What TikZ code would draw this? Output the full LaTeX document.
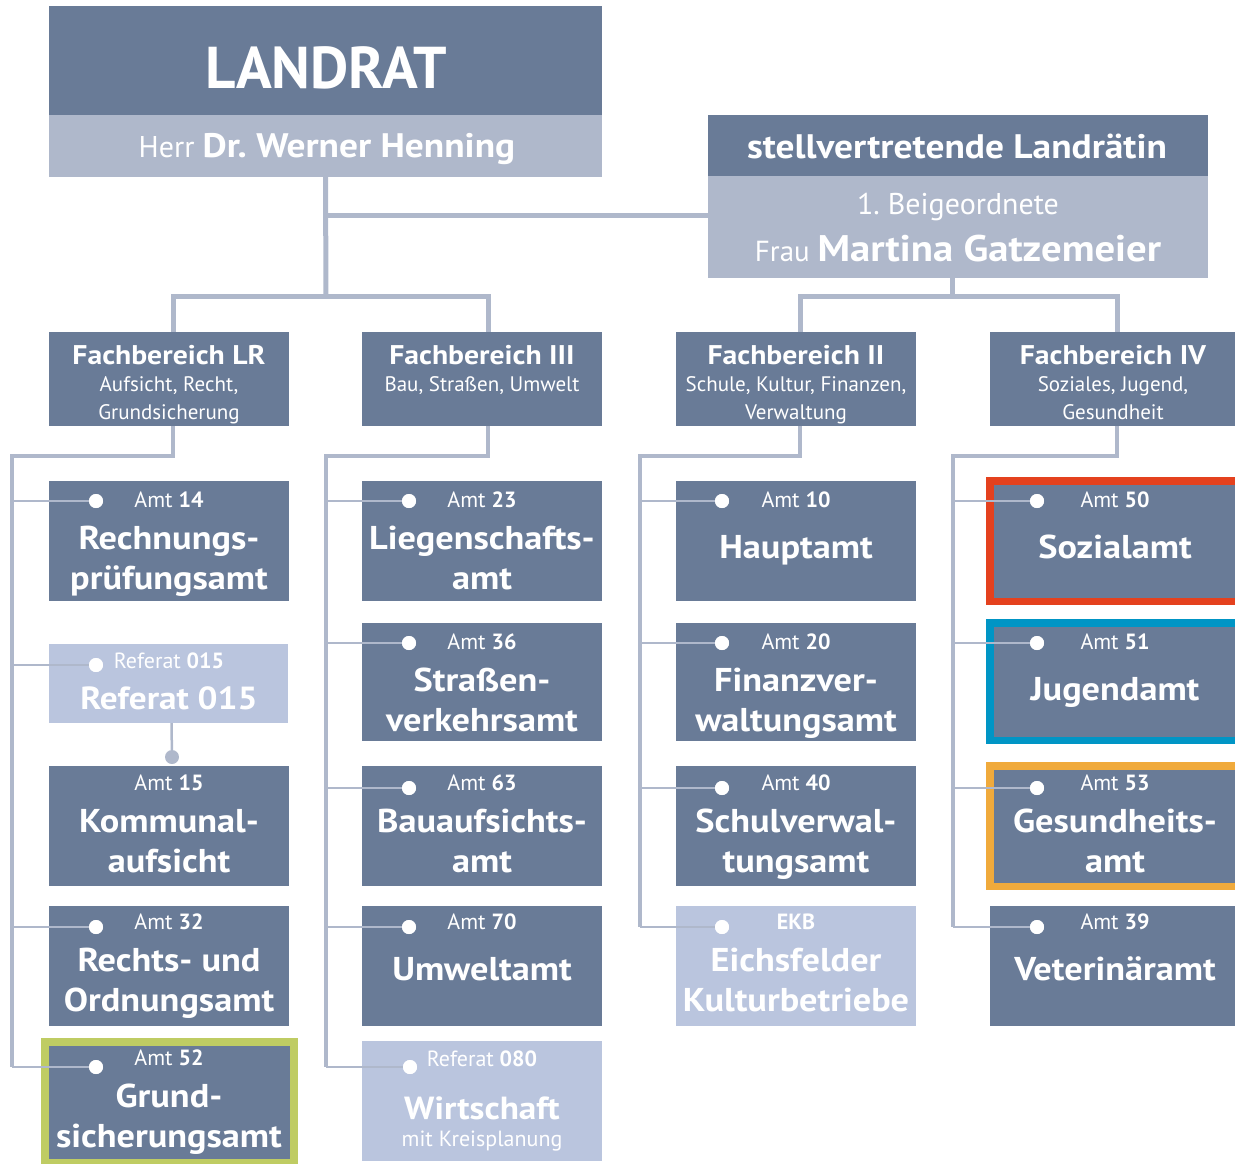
\documentclass[tikz,border=0pt]{standalone}
\usepackage{fontspec}
\setmainfont{PT Sans}
\newfontfamily\sbf{PT Sans}[FakeStretch=1.1]
\usetikzlibrary{fit,calc}
\frenchspacing
\definecolor{dk}{HTML}{697B97}
\definecolor{lt}{HTML}{AFB8CB}
\definecolor{rf}{HTML}{BAC5DE}
\definecolor{ln}{HTML}{AFB8CB}
\definecolor{cred}{HTML}{E4411E}
\definecolor{cblue}{HTML}{0095C5}
\definecolor{corange}{HTML}{F0AA3C}
\definecolor{cgreen}{HTML}{BFCC63}
\newcommand\fs[1]{\fontsize{#1}{#1}\selectfont}
% box: name, x1, y1, x2, y2, style
\newcommand\obox[6]{\node[#6, fit={(#2,#3) (#4,#5)}] (#1) {};}
% two-line office: name, x, label baseline, label, line1, line2
\newcommand\twoline[6]{%
  \node[amtl] (#1a) at (#2,#3) {#4};
  \node[big] (#1b) at (#2,#3+42) {#5};
  \node[big] (#1c) at (#2,#3+82) {#6};}
\newcommand\oneline[5]{%
  \node[amtl] (#1a) at (#2,#3) {#4};
  \node[big] (#1b) at (#2,#3+51) {#5};}
\begin{document}
\begin{tikzpicture}[x=1pt,y=-1pt,
  box/.style={inner sep=0pt, fill=dk, draw=none},
  lbox/.style={inner sep=0pt, fill=lt, draw=none},
  rbox/.style={inner sep=0pt, fill=rf, draw=none},
  txt/.style={text=white, inner sep=0pt, anchor=base},
  amtl/.style={txt, font=\fs{22}},
  big/.style={txt, font=\sbf\fs{33}\bfseries},
  fbt/.style={txt, font=\sbf\fs{27}\bfseries},
  fbs/.style={txt, font=\fs{21}},
  bul/.style={circle, fill=white, minimum size=14pt, inner sep=0pt},
  lmain/.style={draw=ln, line width=5pt},
  lcol/.style={draw=ln, line width=4pt},
  lthin/.style={draw=ln, line width=2pt},
]
\useasboundingbox (0,0) rectangle (1235,1163);
\clip (0,0) rectangle (1235,1163);

% ---------- top boxes ----------
\obox{lrt}{49}{6}{602}{115}{box}
\obox{lrb}{49}{115}{602}{177}{lbox}
\node[txt, font=\fs{59}\bfseries] (lrtx) at (326,88) {LANDRAT};
\node[txt] (lrbx) at (327,157) {\fs{30}Herr \sbf\fs{34}\bfseries Dr. Werner Henning};

\obox{svt}{708}{115}{1208}{176}{box}
\obox{svb}{708}{176}{1208}{278}{lbox}
\node[txt, font=\sbf\fs{34}\bfseries] (svtx) at (957,158) {stellvertretende Landrätin};
\node[txt, font=\fs{30}] (svbx1) at (958,214) {1. Beigeordnete};
\node[txt] (svbx2) at (958,261) {\fs{29}Frau \sbf\fs{37}\bfseries Martina Gatzemeier};

% ---------- Fachbereiche ----------
\obox{fbLR}{49}{332}{289}{426}{box}
\obox{fbIII}{362}{332}{602}{426}{box}
\obox{fbII}{676}{332}{916}{426}{box}
\obox{fbIV}{990}{332}{1240}{426}{box}
\node[fbt] (fbLRa) at (169,364) {Fachbereich LR};
\node[fbs] (fbLRb) at (169,391) {Aufsicht, Recht,};
\node[fbs] (fbLRc) at (169,419) {Grundsicherung};
\node[fbt] (fbIIIa) at (482,364) {Fachbereich III};
\node[fbs] (fbIIIb) at (482,391) {Bau, Straßen, Umwelt};
\node[fbt] (fbIIa) at (796,364) {Fachbereich II};
\node[fbs] (fbIIb) at (796,391) {Schule, Kultur, Finanzen,};
\node[fbs] (fbIIc) at (796,419) {Verwaltung};
\node[fbt] (fbIVa) at (1113,364) {Fachbereich IV};
\node[fbs] (fbIVb) at (1113,391) {Soziales, Jugend,};
\node[fbs] (fbIVc) at (1113,419) {Gesundheit};

% ---------- top connectors ----------
\coordinate (j0) at (326,215);
\coordinate (j1) at (326,296);
\coordinate (j2) at (952,296);
\draw[lmain] (lrb.south) -- (j1);
\draw[lmain] (j0) -- (svb.west |- j0);
\draw[lmain] ([xshift=4pt]fbLR.north) |- (j1) -| ([xshift=6pt]fbIII.north);
\draw[lmain] (svb.south -| j2) -- (j2);
\draw[lmain] ([xshift=4pt]fbII.north) |- (j2) -| ([xshift=2pt]fbIV.north);

% ---------- column LR ----------
\obox{a14}{49}{481}{289}{601}{box}
\obox{r015}{49}{644}{288}{723}{rbox}
\obox{a15}{49}{766}{289}{886}{box}
\obox{a32}{49}{906}{289}{1026}{box}
\node[inner sep=0pt, fill=dk, draw=cgreen, line width=8pt, fit={(45,1042) (293.5,1163)}] (a52) {};
\twoline{t14}{169}{507}{Amt \textbf{14}}{Rechnungs-}{prüfungsamt}
\node[amtl] (t015a) at (169,668) {Referat \textbf{015}};
\node[big, font=\sbf\fs{32}\bfseries] (t015b) at (169,709) {Referat 015};
\twoline{t15}{169}{790}{Amt \textbf{15}}{Kommunal-}{aufsicht}
\twoline{t32}{169}{929}{Amt \textbf{32}}{Rechts- und}{Ordnungsamt}
\twoline{t52}{169}{1065}{Amt \textbf{52}}{Grund-}{sicherungsamt}

% ---------- column III ----------
\obox{a23}{362}{481}{602}{601}{box}
\obox{a36}{362}{623}{602}{741}{box}
\obox{a63}{362}{766}{602}{886}{box}
\obox{a70}{362}{906}{602}{1026}{box}
\obox{r080}{362}{1041}{602}{1161}{rbox}
\twoline{t23}{482}{507}{Amt \textbf{23}}{Liegenschafts-}{amt}
\twoline{t36}{482}{649}{Amt \textbf{36}}{Straßen-}{verkehrsamt}
\twoline{t63}{482}{790}{Amt \textbf{63}}{Bauaufsichts-}{amt}
\oneline{t70}{482}{929}{Amt \textbf{70}}{Umweltamt}
\node[amtl] (t080a) at (482,1066) {Referat \textbf{080}};
\node[txt, font=\sbf\fs{32}\bfseries] (t080b) at (482,1119) {Wirtschaft};
\node[amtl] (t080c) at (482,1146) {mit Kreisplanung};

% ---------- column II ----------
\obox{a10}{676}{481}{916}{601}{box}
\obox{a20}{676}{623}{916}{741}{box}
\obox{a40}{676}{766}{916}{886}{box}
\obox{ekb}{676}{906}{916}{1026}{rbox}
\oneline{t10}{796}{507}{Amt \textbf{10}}{Hauptamt}
\twoline{t20}{796}{649}{Amt \textbf{20}}{Finanzver-}{waltungsamt}
\twoline{t40}{796}{790}{Amt \textbf{40}}{Schulverwal-}{tungsamt}
\twoline{tekb}{796}{929}{\textbf{EKB}}{Eichsfelder}{Kulturbetriebe}

% ---------- column IV ----------
\node[inner sep=0pt, fill=dk, draw=cred, line width=7.5pt, fit={(989.75,480.75) (1250,601.25)}] (a50) {};
\node[inner sep=0pt, fill=dk, draw=cblue, line width=7.5pt, fit={(989.75,622.75) (1250,740.25)}] (a51) {};
\node[inner sep=0pt, fill=dk, draw=corange, line width=7.5pt, fit={(989.75,765.75) (1250,886.25)}] (a53) {};
\obox{a39}{990}{906}{1240}{1026}{box}
\oneline{t50}{1115}{507}{Amt \textbf{50}}{Sozialamt}
\oneline{t51}{1115}{649}{Amt \textbf{51}}{Jugendamt}
\twoline{t53}{1115}{790}{Amt \textbf{53}}{Gesundheits-}{amt}
\oneline{t39}{1115}{929}{Amt \textbf{39}}{Veterinäramt}

% ---------- bullets ----------
\node[bul] (b14) at (96,501) {};
\node[bul] (b015) at (96,665) {};
\node[bul] (b32) at (96,927) {};
\node[bul] (b52) at (96,1067) {};
\node[bul] (b23) at (409,501) {};
\node[bul] (b36) at (409,643) {};
\node[bul] (b63) at (409,788) {};
\node[bul] (b70) at (409,927) {};
\node[bul] (b080) at (410,1067) {};
\node[bul] (b10) at (722,501) {};
\node[bul] (b20) at (722,643) {};
\node[bul] (b40) at (722,788) {};
\node[bul] (bekb) at (722,927) {};
\node[bul] (b50) at (1037,501) {};
\node[bul] (b51) at (1037,643) {};
\node[bul] (b53) at (1037,788) {};
\node[bul] (b39) at (1037,927) {};

% ---------- column connectors ----------
\coordinate (cLR) at (12,456);   \coordinate (cLRe) at (12,1067);
\coordinate (cIII) at (326,456); \coordinate (cIIIe) at (326,1067);
\coordinate (cII) at (640,456);  \coordinate (cIIe) at (640,927);
\coordinate (cIV) at (953,456);  \coordinate (cIVe) at (953,927);
\draw[lcol] ([xshift=4pt]fbLR.south) |- (cLR) -- (cLRe);
\draw[lcol] ([xshift=6pt]fbIII.south) |- (cIII) -- (cIIIe);
\draw[lcol] ([xshift=4pt]fbII.south) |- (cII) -- (cIIe);
\draw[lcol] ([xshift=2pt]fbIV.south) |- (cIV) -- (cIVe);
\foreach \b/\c in {b14/cLR,b015/cLR,b32/cLR,b52/cLR,b23/cIII,b36/cIII,b63/cIII,b70/cIII,b080/cIII,b10/cII,b20/cII,b40/cII,bekb/cII,b50/cIV,b51/cIV,b53/cIV,b39/cIV}
  \draw[lthin] (\b -| \c) -- (\b.center);
\foreach \b in {b14,b015,b32,b52,b23,b36,b63,b70,b080,b10,b20,b40,bekb,b50,b51,b53,b39}
  \node[bul] at (\b) {};

% Referat 015 -> Amt 15
\node[circle, fill=ln, minimum size=14pt, inner sep=0pt] (d15) at (172,757) {};
\draw[draw=ln, line width=2.5pt] ([xshift=3pt]r015.south) -- (d15);
\end{tikzpicture}
\end{document}
